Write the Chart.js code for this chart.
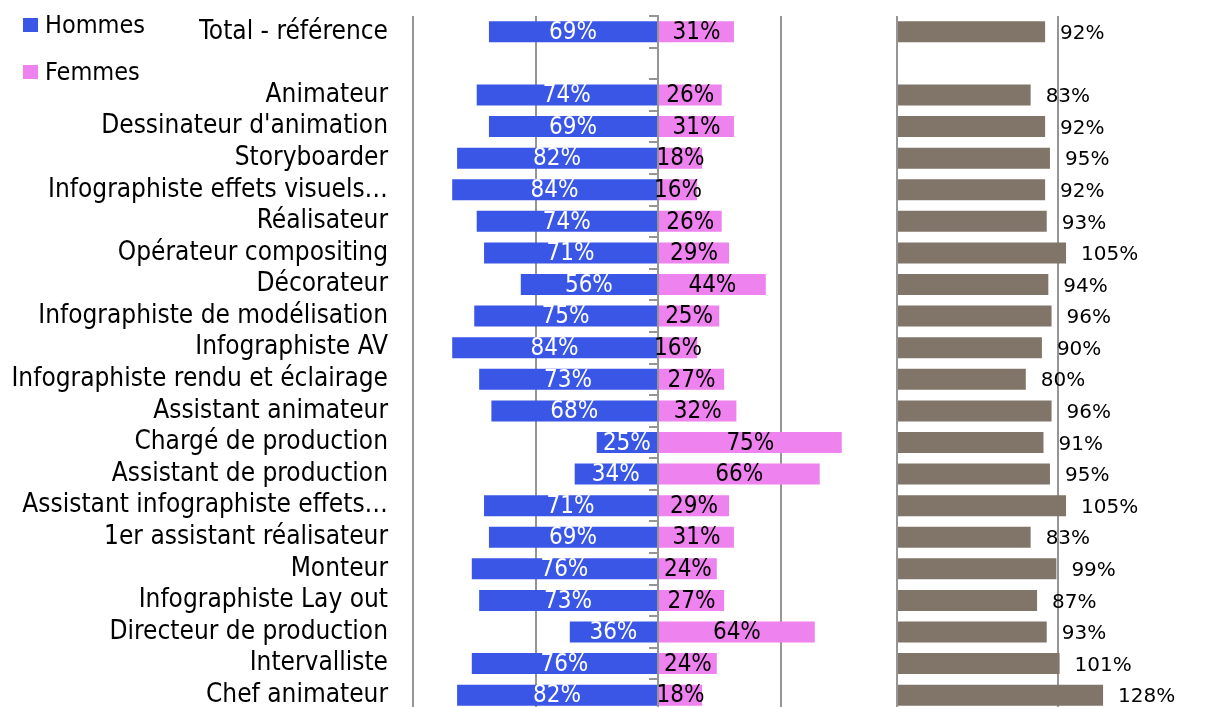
<!DOCTYPE html>
<html>
<head>
<meta charset="utf-8">
<script src="https://cdn.jsdelivr.net/npm/chart.js@4.4.1/dist/chart.umd.min.js"></script>
<style>
  html, body { margin: 0; padding: 0; background: #fff; overflow: hidden; width: 1206px; height: 707px; }
  #wrapLeft { position: absolute; left: 0; top: 0; width: 903px; height: 715px; }
  #wrapRight { position: absolute; left: 880px; top: 0; width: 326px; height: 715px; }
  .legend { position: absolute; left: 23px; font-family: 'DejaVu Sans Condensed', 'DejaVu Sans', sans-serif; font-size: 25px; color: #000; line-height: 26px; }
  .legend span.box { display: inline-block; width: 15px; height: 14px; margin-right: 7px; vertical-align: 1px; }
</style>
</head>
<body>
<div id="wrapLeft"><canvas id="leftChart"></canvas></div>
<div id="wrapRight"><canvas id="rightChart"></canvas></div>
<div class="legend" style="top:12px"><span class="box" style="background:#3a56e6"></span>Hommes</div>
<div class="legend" style="top:59px"><span class="box" style="background:#ee82ee"></span>Femmes</div>
<script>
const categories = [
  'Total - référence', '',
  'Animateur', "Dessinateur d'animation", 'Storyboarder', 'Infographiste effets visuels…',
  'Réalisateur', 'Opérateur compositing', 'Décorateur', 'Infographiste de modélisation',
  'Infographiste AV', 'Infographiste rendu et éclairage', 'Assistant animateur',
  'Chargé de production', 'Assistant de production', 'Assistant infographiste effets…',
  '1er assistant réalisateur', 'Monteur', 'Infographiste Lay out', 'Directeur de production',
  'Intervalliste', 'Chef animateur'
];
const hommes = [69, null, 74, 69, 82, 84, 74, 71, 56, 75, 84, 73, 68, 25, 34, 71, 69, 76, 73, 36, 76, 82];
const femmes = [31, null, 26, 31, 18, 16, 26, 29, 44, 25, 16, 27, 32, 75, 66, 29, 31, 24, 27, 64, 24, 18];
const ratio = [92, null, 83, 92, 95, 92, 93, 105, 94, 96, 90, 80, 96, 91, 95, 105, 83, 99, 87, 93, 101, 128];

const FONT = "'DejaVu Sans Condensed', 'DejaVu Sans', sans-serif";
const GRID = '#959595';

const labelPlugin = {
  id: 'barLabels',
  afterDatasetsDraw(chart, args, opts) {
    const ctx = chart.ctx;
    ctx.save();
    ctx.textBaseline = 'middle';
    chart.data.datasets.forEach((ds, i) => {
      const meta = chart.getDatasetMeta(i);
      meta.data.forEach((bar, j) => {
        const v = ds.raw[j];
        if (v == null) return;
        ctx.fillStyle = ds.labelColor;
        ctx.font = ds.labelFont;
        if (opts.outside) {
          ctx.textAlign = 'left';
          ctx.fillText(v + '%', bar.x + 15, bar.y + 2);
        } else {
          ctx.textAlign = 'center';
          ctx.fillText(v + '%', (bar.x + bar.base) / 2, bar.y + 1);
        }
      });
    });
    ctx.restore();
  }
};

// y axis: fixed width, no extra padding from label heights
function fixAxis(s) {
  s.width = 413;
  s.paddingTop = 0;
  s.paddingBottom = 0;
}

new Chart(document.getElementById('leftChart'), {
  type: 'bar',
  data: {
    labels: categories,
    datasets: [
      {
        label: 'Hommes', raw: hommes,
        data: hommes.map(v => v == null ? null : -v / 100),
        backgroundColor: '#3a56e6', labelColor: '#fff', labelFont: '24px ' + FONT,
        barPercentage: 0.665, categoryPercentage: 1
      },
      {
        label: 'Femmes', raw: femmes,
        data: femmes.map(v => v == null ? null : v / 100),
        backgroundColor: '#ee82ee', labelColor: '#000', labelFont: '24px ' + FONT,
        barPercentage: 0.665, categoryPercentage: 1
      }
    ]
  },
  options: {
    indexAxis: 'y',
    responsive: true,
    maintainAspectRatio: false,
    animation: false,
    layout: { padding: { top: 16, bottom: 4, left: 0, right: 0 } },
    plugins: { legend: { display: false }, tooltip: { enabled: false }, barLabels: { outside: false } },
    scales: {
      x: {
        stacked: true, min: -1, max: 1,
        ticks: { display: false, stepSize: 0.5 },
        border: { display: false },
        afterFit: s => { s.height = 0; s.paddingLeft = 0; s.paddingRight = 0; },
        grid: {
          drawTicks: false, lineWidth: 2,
          color: c => (c.tick && c.tick.value === 1) ? 'rgba(0,0,0,0)' : GRID
        }
      },
      y: {
        stacked: true,
        position: 'left',
        grid: { display: false, drawTicks: false },
        border: { display: false },
        ticks: { color: '#000', font: { family: FONT, size: 26 }, padding: 25, autoSkip: false },
        afterFit: fixAxis
      },
      y2: {
        type: 'category',
        position: { x: 0 },
        offset: true,
        grid: { offset: true, drawOnChartArea: false, drawTicks: true, tickLength: 8, color: GRID, lineWidth: 2 },
        border: { display: true, color: GRID, width: 2 },
        ticks: { display: false },
        afterFit: s => { s.paddingTop = 0; s.paddingBottom = 0; }
      }
    }
  },
  plugins: [labelPlugin]
});

new Chart(document.getElementById('rightChart'), {
  type: 'bar',
  data: {
    labels: categories,
    datasets: [
      {
        label: 'Ratio', raw: ratio,
        data: ratio.map(v => v == null ? null : v / 100),
        backgroundColor: '#807568', labelColor: '#000', labelFont: "20px 'DejaVu Sans', sans-serif",
        barPercentage: 0.665, categoryPercentage: 1
      }
    ]
  },
  options: {
    indexAxis: 'y',
    responsive: true,
    maintainAspectRatio: false,
    animation: false,
    layout: { padding: { top: 16, bottom: 4, left: 17, right: 0 } },
    plugins: { legend: { display: false }, tooltip: { enabled: false }, barLabels: { outside: true } },
    scales: {
      x: {
        min: 0, max: 309 / 161,
        ticks: { display: false },
        afterBuildTicks: s => { s.ticks = [{ value: 0 }, { value: 1 }]; },
        border: { display: false },
        grid: { drawTicks: false, lineWidth: 2, color: GRID }
      },
      y: { display: false }
    }
  },
  plugins: [labelPlugin]
});
</script>
</body>
</html>
